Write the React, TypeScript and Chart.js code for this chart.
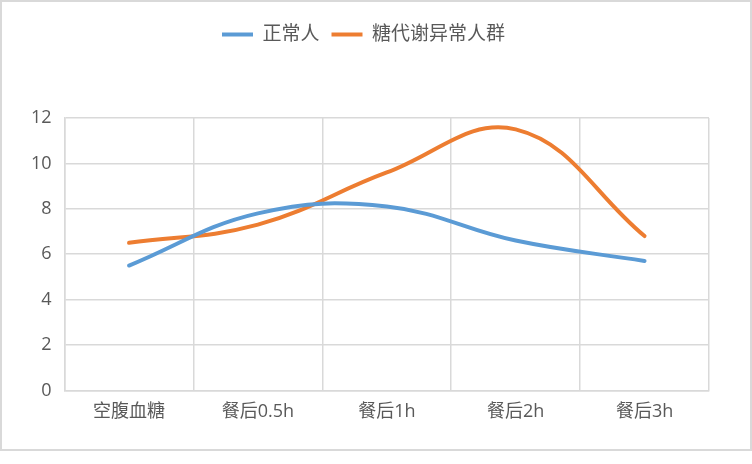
import React, { useEffect, useRef } from "react";
import { Chart, registerables } from "chart.js";

Chart.register(...registerables);

const categories = ["空腹血糖", "餐后0.5h", "餐后1h", "餐后2h", "餐后3h"];
const normalValues = [5.5, 7.8, 8.1, 6.6, 5.7];
const abnormalValues = [6.5, 7.3, 9.6, 11.5, 6.8];
const seriesNames = ["正常人", "糖代谢异常人群"];
const yTicks = [0, 2, 4, 6, 8, 10, 12];

const FONT = '"Open Sans", "Noto Sans CJK SC", sans-serif';
const TEXT = "#595959";
const GRID = "#d9d9d9";

export default function App() {
  const ref = useRef<HTMLCanvasElement | null>(null);

  useEffect(() => {
    document.body.style.margin = "0";
    const canvas = ref.current;
    if (!canvas) return;

    const borderPlugin = {
      id: "outerBorder",
      afterDraw(chart: any) {
        const ctx = chart.ctx;
        ctx.save();
        ctx.strokeStyle = GRID;
        ctx.lineWidth = 2;
        ctx.strokeRect(1, 1, chart.width - 2, chart.height - 2);
        ctx.restore();
      },
    };

    const legendSpace = {
      id: "legendSpace",
      beforeInit(chart: any) {
        const legend = chart.legend;
        if (!legend) return;
        const origFit = legend.fit;
        legend.fit = function () {
          origFit.call(this);
          this.height += 64;
        };
      },
    };

    const chart = new Chart(canvas, {
      type: "line",
      data: {
        labels: categories,
        datasets: [
          {
            label: seriesNames[0],
            data: normalValues,
            borderColor: "#5b9bd5",
            backgroundColor: "#5b9bd5",
            borderWidth: 4,
            borderCapStyle: "round",
            tension: 0.4,
            pointRadius: 0,
            fill: false,
          },
          {
            label: seriesNames[1],
            data: abnormalValues,
            borderColor: "#ed7d31",
            backgroundColor: "#ed7d31",
            borderWidth: 4,
            borderCapStyle: "round",
            tension: 0.4,
            pointRadius: 0,
            fill: false,
          },
        ],
      },
      options: {
        animation: false,
        responsive: false,
        devicePixelRatio: 1,
        layout: { padding: { top: 13, left: 18, right: 43, bottom: 17 } },
        plugins: {
          legend: {
            position: "top",
            labels: {
              usePointStyle: true,
              pointStyle: "line",
              pointStyleWidth: 31,
              boxHeight: 10,
              padding: 12,
              color: TEXT,
              font: { family: FONT, size: 19 },
            },
          },
          tooltip: { enabled: false },
        },
        scales: {
          x: {
            offset: true,
            grid: { offset: true, color: GRID, lineWidth: 1.5, drawTicks: false },
            border: { color: GRID, width: 1.5 },
            ticks: { color: TEXT, font: { family: FONT, size: 18 }, padding: 11 },
          },
          y: {
            min: 0,
            max: 12,
            afterBuildTicks(axis: any) {
              axis.ticks = yTicks.map((v) => ({ value: v }));
            },
            grid: { color: GRID, lineWidth: 1.5, drawTicks: false },
            border: { color: GRID, width: 1.5 },
            ticks: { color: TEXT, font: { family: FONT, size: 18 }, padding: 13 },
          },
        },
      },
      plugins: [borderPlugin, legendSpace],
    } as any);

    return () => chart.destroy();
  }, []);

  return (
    <div style={{ width: 752, height: 464, background: "#fff" }}>
      <canvas ref={ref} width={752} height={451} style={{ display: "block" }} />
    </div>
  );
}
